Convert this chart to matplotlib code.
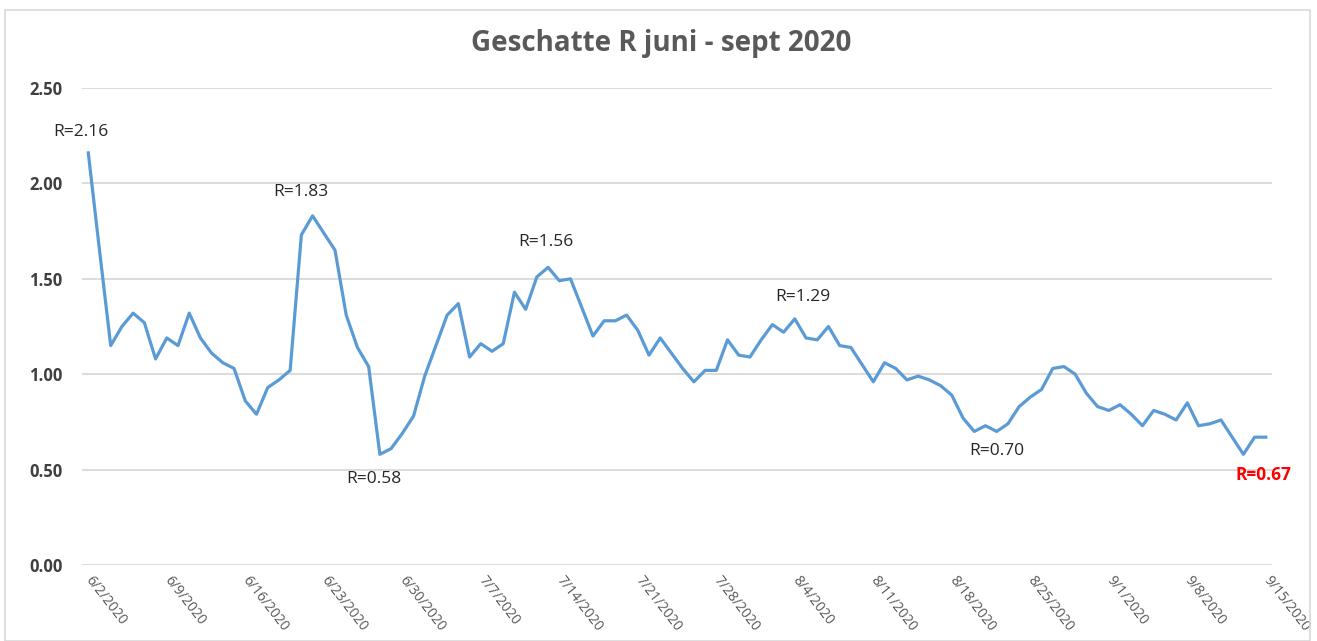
import matplotlib
matplotlib.use("Agg")
import matplotlib.pyplot as plt
import matplotlib.dates as mdates
from matplotlib.patches import Rectangle
import numpy as np
import pandas as pd

plt.rcParams['font.family'] = ['Open Sans', 'DejaVu Sans']

# geschatte R per dag, 2 juni t/m 15 september 2020
dates = pd.date_range("2020-06-02", "2020-09-15", freq="D")
r_values = [
    2.16, 1.65, 1.15, 1.25, 1.32, 1.27, 1.08, 1.19, 1.15, 1.32,
    1.19, 1.11, 1.06, 1.03, 0.86, 0.79, 0.93, 0.97, 1.02, 1.73,
    1.83, 1.74, 1.65, 1.31, 1.14, 1.04, 0.58, 0.61, 0.69, 0.78,
    0.99, 1.15, 1.31, 1.37, 1.09, 1.16, 1.12, 1.16, 1.43, 1.34,
    1.51, 1.56, 1.49, 1.50, 1.35, 1.20, 1.28, 1.28, 1.31, 1.23,
    1.10, 1.19, 1.11, 1.03, 0.96, 1.02, 1.02, 1.18, 1.10, 1.09,
    1.18, 1.26, 1.22, 1.29, 1.19, 1.18, 1.25, 1.15, 1.14, 1.05,
    0.96, 1.06, 1.03, 0.97, 0.99, 0.97, 0.94, 0.89, 0.77, 0.70,
    0.73, 0.70, 0.74, 0.83, 0.88, 0.92, 1.03, 1.04, 1.00, 0.90,
    0.83, 0.81, 0.84, 0.79, 0.73, 0.81, 0.79, 0.76, 0.85, 0.73,
    0.74, 0.76, 0.67, 0.58, 0.67, 0.67,
]

# labels: (dagen na 2 juni, tekst, y-positie van de tekst)
labels = [
    (-0.7, "R=2.16", 2.27),
    (19.0, "R=1.83", 1.955),
    (25.5, "R=0.58", 0.45),
    (40.8, "R=1.56", 1.695),
    (63.7, "R=1.29", 1.405),
    (81.0, "R=0.70", 0.595),
]
last_label = (104.8, "R=0.67", 0.474)

tick_dates = dates[::7]
tick_labels = [f"{d.month}/{d.day}/{d.year}" for d in tick_dates]

fig = plt.figure(figsize=(13.17, 6.41), dpi=100)
ax = fig.add_axes([82 / 1317, 1 - 565 / 641, (1272 - 82) / 1317, (565 - 88) / 641])

# kader rond de grafiek
fig.patches.append(Rectangle((5 / 1317, 0), 1305 / 1317, 1 - 10 / 641,
                             transform=fig.transFigure, fill=False,
                             edgecolor="#D9D9D9", linewidth=1.2))

ax.plot(dates, r_values, color="#5B9BD5", linewidth=2.3, solid_joinstyle="round")

ax.set_ylim(0, 2.5)
ax.set_yticks(np.arange(0, 2.51, 0.5))
ax.set_yticklabels([f"{v:.2f}" for v in np.arange(0, 2.51, 0.5)],
                   fontsize=12, fontweight="bold", color="#404040")
x0 = mdates.date2num(dates[0])
ax.set_xlim(x0 - 0.56, x0 + 105.55)
ax.set_xticks(tick_dates)
ax.set_xticklabels(tick_labels, rotation=-52, rotation_mode="anchor",
                   ha="left", va="center", fontsize=10, color="#595959")
ax.tick_params(axis="both", length=0)
ax.tick_params(axis="x", pad=9)
ax.tick_params(axis="y", pad=14)

ax.grid(axis="y", color="#D9D9D9", linewidth=1.3)
ax.set_axisbelow(True)
for s in ax.spines.values():
    s.set_visible(False)

for dx, txt, y in labels:
    ax.text(x0 + dx, y, txt, ha="center", va="center",
            fontsize=12.5, color="#262626")
dx, txt, y = last_label
ax.text(x0 + dx, y, txt, ha="center", va="center",
        fontsize=12.5, color="#FF0000", fontweight="bold")

fig.text(661 / 1317, 1 - 44 / 641, "Geschatte R juni - sept 2020",
         ha="center", va="center", fontsize=20, fontweight="bold", color="#595959")

fig.savefig("out.png", dpi=100)
